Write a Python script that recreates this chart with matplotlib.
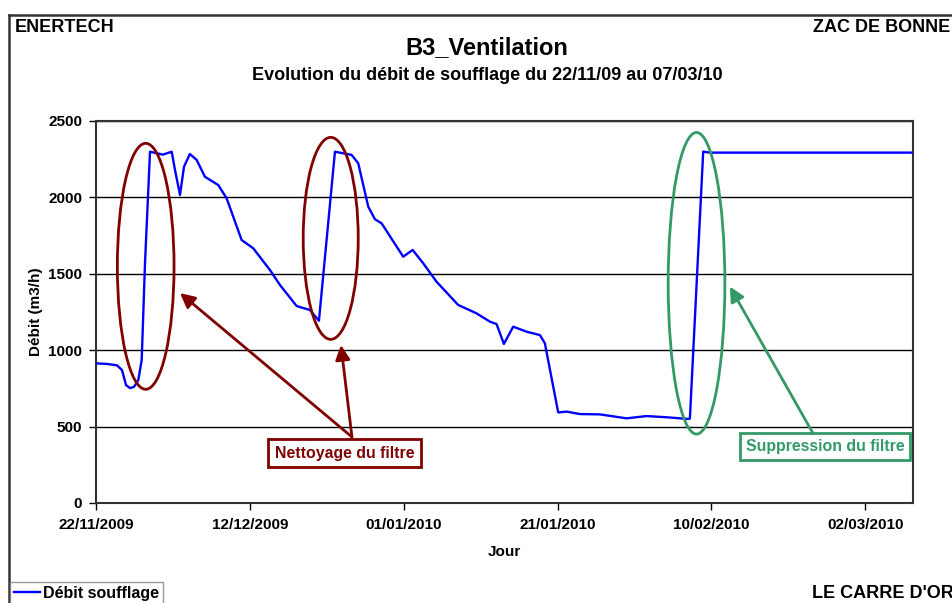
import numpy as np
import matplotlib
matplotlib.use('Agg')
import matplotlib.pyplot as plt
import matplotlib.dates as mdates
from matplotlib.patches import Ellipse
from matplotlib.lines import Line2D
from datetime import datetime

plt.rcParams['font.family'] = ['Liberation Sans', 'DejaVu Sans']
plt.rcParams['font.weight'] = 'bold'

# data: days since 22/11/2009, flow in m3/h
start = datetime(2009, 11, 22)
days = [0, 1.43, 2.73, 3.38, 3.9, 4.42, 4.94, 5.5, 5.94, 6.37, 7.02, 7.8, 8.7,
        9.84, 10.27, 10.92, 11.44, 12.2, 13.09, 14.16, 15.89, 16.98, 18.93,
        20.44, 22.61, 23.91, 26.08, 27.81, 28.98, 31.06, 33.23, 34.09, 35.39,
        36.26, 37.13, 39.93, 41.16, 42.53, 44.27, 47.08, 49.47, 51.2, 52.07,
        53.02, 54.23, 55.97, 57.7, 58.35, 60.08, 61.17, 62.9, 65.5, 68.97,
        71.57, 74.17, 76.98, 77.2, 78.93, 79.79, 106.17]
debit = [914, 910, 901, 870, 772, 752, 760, 805, 936, 1570, 2299, 2290, 2280,
         2299, 2179, 2016, 2201, 2284, 2245, 2135, 2081, 1994, 1721,
         1667, 1525, 1427, 1289, 1263, 1193, 2299, 2278, 2223, 1939,
         1857, 1830, 1612, 1656, 1569, 1448, 1296, 1241, 1187, 1171,
         1041, 1154, 1121, 1099, 1045, 593, 598, 582, 580, 554,
         569, 561, 550, 553, 2300, 2293, 2293]

tick_dates = [datetime(2009, 11, 22), datetime(2009, 12, 12), datetime(2010, 1, 1),
              datetime(2010, 1, 21), datetime(2010, 2, 10), datetime(2010, 3, 2)]
tick_labels = ['22/11/2009', '12/12/2009', '01/01/2010', '21/01/2010',
               '10/02/2010', '02/03/2010']
y_ticks = [0, 500, 1000, 1500, 2000, 2500]

# annotations: (center day, center value, width days, height value)
red_ellipses = [(6.46, 1549, 7.37, 1610), (30.51, 1732, 7.15, 1322)]
green_ellipse = (78.06, 1438, 7.37, 1974)

W, H = 953, 603
fig = plt.figure(figsize=(W / 100, H / 100), dpi=100)
ax = fig.add_axes([96 / W, 1 - 503 / H, (913 - 96) / W, (503 - 121) / H])

x0 = mdates.date2num(start)
x = x0 + np.array(days)
ax.plot(x, debit, color='#0000FF', linewidth=1.7, label='Débit soufflage',
        zorder=4, solid_joinstyle='round')

ax.set_xlim(x0, x0 + 106.2)
ax.set_ylim(0, 2500)
ax.set_xticks(mdates.date2num(tick_dates))
ax.set_xticklabels(tick_labels)
ax.set_yticks(y_ticks)
ax.yaxis.grid(True, color='black', linewidth=1)
ax.set_axisbelow(True)
ax.tick_params(axis='both', direction='out', length=5, width=1, labelsize=11)
ax.tick_params(axis='x', pad=6)
ax.tick_params(axis='y', pad=5)
for s in ax.spines.values():
    s.set_color('#333333')
    s.set_linewidth(1.5)

# ellipses
for cx, cy, w, h in red_ellipses:
    ax.add_patch(Ellipse((x0 + cx, cy), w, h, fill=False, edgecolor='#800000',
                         linewidth=2, zorder=5))
cx, cy, w, h = green_ellipse
ax.add_patch(Ellipse((x0 + cx, cy), w, h, fill=False, edgecolor='#339966',
                     linewidth=2, zorder=5))

# arrows
red = '#800000'
green = '#339966'
for tip in [(10.92, 1374), (31.84, 1034)]:
    ax.annotate('', xy=(x0 + tip[0], tip[1]), xytext=(x0 + 33.27, 432),
                arrowprops=dict(arrowstyle='-|>', color=red, lw=2,
                                mutation_scale=22, shrinkA=0, shrinkB=0), zorder=6)
ax.annotate('', xy=(x0 + 82.4, 1416), xytext=(x0 + 93.2, 456),
            arrowprops=dict(arrowstyle='-|>', color=green, lw=2,
                            mutation_scale=22, shrinkA=0, shrinkB=0), zorder=6)

ax.text(x0 + 32.3, 327, 'Nettoyage du filtre', color=red, fontsize=11.4,
        ha='center', va='center', zorder=7,
        bbox=dict(boxstyle='square,pad=0.42', fc='white', ec=red, lw=2))
ax.text(x0 + 94.8, 370, 'Suppression du filtre', color=green, fontsize=11.4,
        ha='center', va='center', zorder=7,
        bbox=dict(boxstyle='square,pad=0.35', fc='white', ec=green, lw=2))

# axis labels
fig.text(504 / W, 1 - 552 / H, 'Jour', ha='center', va='center', fontsize=11)
fig.text(36 / W, 1 - 312 / H, 'Débit (m3/h)', ha='center', va='center',
         rotation=90, fontsize=11)

# titles and page texts
fig.text(487 / W, 1 - 48 / H, 'B3_Ventilation', ha='center', va='center', fontsize=17)
fig.text(487 / W, 1 - 76 / H, 'Evolution du débit de soufflage du 22/11/09 au 07/03/10',
         ha='center', va='center', fontsize=13)
fig.text(15 / W, 1 - 28 / H, 'ENERTECH', ha='left', va='center', fontsize=13)
fig.text(950 / W, 1 - 28 / H, 'ZAC DE BONNE', ha='right', va='center', fontsize=13)
fig.text(812 / W, 1 - 593 / H, "LE CARRE D'OR", ha='left', va='center', fontsize=13)

# page frame
fig.add_artist(Line2D([9 / W, 9 / W], [0, 1 - 15 / H], color='#333333', lw=1.8))
fig.add_artist(Line2D([9 / W, 1], [1 - 15 / H, 1 - 15 / H], color='#333333', lw=1.8))

# legend
leg = fig.legend(loc='upper left', bbox_to_anchor=(10 / W, 1 - 582 / H),
                 fontsize=11.5, frameon=True, fancybox=False, borderpad=0.25,
                 handlelength=1.6, handletextpad=0.2, borderaxespad=0)
leg.get_frame().set_edgecolor('#808080')
leg.get_frame().set_linewidth(1)

fig.savefig('out.png', dpi=100)
